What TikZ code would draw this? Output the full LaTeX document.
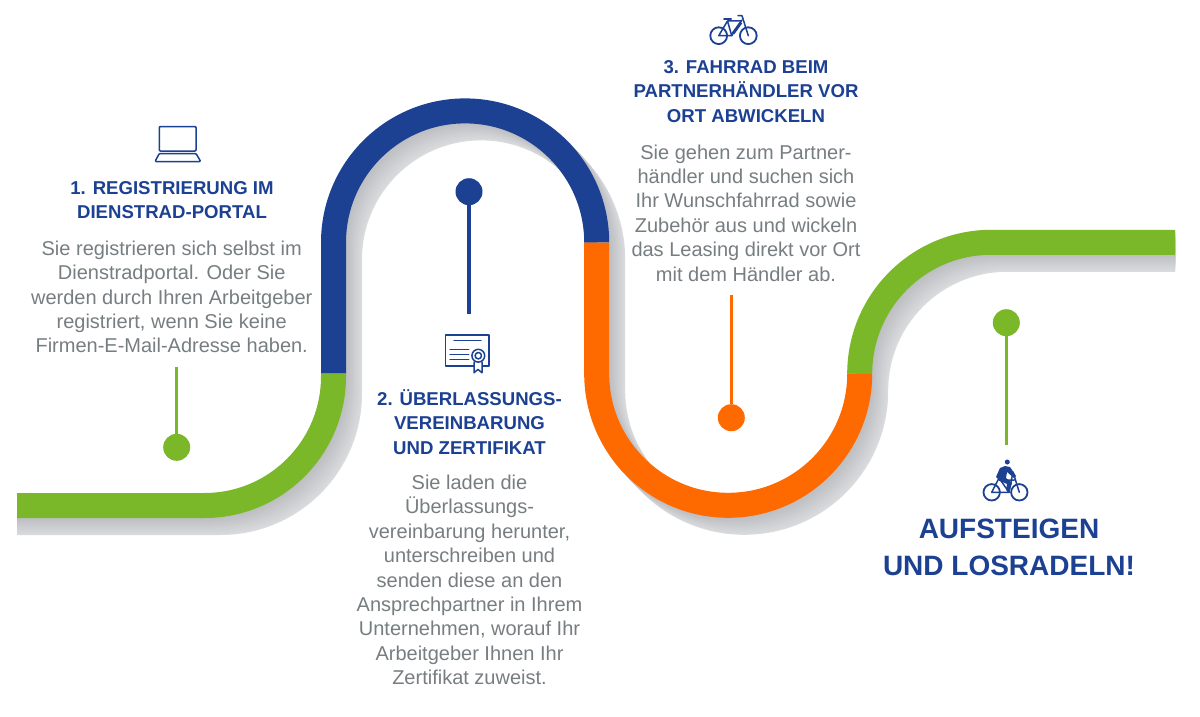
\documentclass[tikz,border=0pt]{standalone}
\usepackage{fontspec}
\setmainfont{Liberation Sans}
\definecolor{bgreen}{HTML}{7AB829}
\definecolor{bblue}{HTML}{1C4193}
\definecolor{borange}{HTML}{FF6A00}
\definecolor{tgrey}{HTML}{777E81}
\definecolor{shlight}{HTML}{DADBDD}
\definecolor{shdark}{HTML}{BEBFC3}
\newcommand{\bandpath}{(0,-505.5) -- (204.5,-505.5) arc[start angle=270,end angle=360,radius=129] -- (333.5,-242.5) arc[start angle=180,end angle=0,radius=131.6] -- (596.7,-373.8) arc[start angle=180,end angle=360,radius=131.5] arc[start angle=180,end angle=90,radius=131.5] -- (1200,-242.5)}
\tikzset{
  band/.style={line width=25pt},
  pinline/.style={line width=3.4pt},
  pindot/.style={circle,minimum size=27pt,inner sep=0pt,fill=#1},
  head/.style={text=bblue,font=\fontsize{18.6}{24.3}\selectfont\bfseries,align=center,inner sep=0pt},
  body/.style={text=tgrey,font=\fontsize{20}{24.4}\selectfont,align=center,inner sep=0pt},
  big/.style={text=bblue,font=\fontsize{28}{37}\selectfont\bfseries,align=center,inner sep=0pt},
  icon/.style={draw=bblue,line width=1.5pt,line join=round,line cap=round}
}
\begin{document}
\begin{tikzpicture}[x=1pt,y=1pt]
\useasboundingbox (0,-717) rectangle (1200,0);
\fill[white] (0,-717) rectangle (1200,0);
% shadow
\begin{scope}
\clip (17,-717) rectangle (1175,0);
\foreach \k in {17,16,...,1}{
  \pgfmathsetmacro{\mixv}{(17-\k)/16*100}
  \colorlet{shcur}{shdark!\mixv!shlight}
  \draw[band,shcur,xshift=\k*16/17*1pt,yshift=-\k*1pt] \bandpath;
}
\end{scope}
% band
\draw[band,bgreen] (17,-505.5) -- (204.5,-505.5) arc[start angle=270,end angle=360,radius=129] -- (333.5,-373);
\draw[band,bblue] (333.5,-373) -- (333.5,-242.5) arc[start angle=180,end angle=0,radius=131.6];
\draw[band,borange] (596.7,-242.5) -- (596.7,-373.8) arc[start angle=180,end angle=360,radius=131.5];
\draw[band,bgreen] (859.7,-373.8) arc[start angle=180,end angle=90,radius=131.5] -- (1175,-242.5);
% pins
\node[pindot=bgreen] (d1) at (176.7,-447.3) {};
\coordinate (e1) at (176.7,-367);
\draw[pinline,bgreen] (d1) -- (e1);
\node[pindot=bblue] (d2) at (469,-191.7) {};
\coordinate (e2) at (469,-314.3);
\draw[pinline,bblue] (d2) -- (e2);
\node[pindot=borange] (d3) at (731.3,-417.7) {};
\coordinate (e3) at (731.3,-295);
\draw[pinline,borange] (d3) -- (e3);
\node[pindot=bgreen] (d4) at (1006.3,-322.7) {};
\coordinate (e4) at (1006.3,-445);
\draw[pinline,bgreen] (d4) -- (e4);
% texts
\node[head] (h1) at (172,-200) {1. REGISTRIERUNG IM\\DIENSTRAD-PORTAL};
\node[body] (b1) at (171.7,-297) {Sie registrieren sich selbst im\\Dienstradportal. Oder Sie\\werden durch Ihren Arbeitgeber\\registriert, wenn Sie keine\\Firmen-E-Mail-Adresse haben.};
\node[head] (h2) at (469.5,-422) {2. ÜBERLASSUNGS-\\VEREINBARUNG\\UND ZERTIFIKAT};
\node[body] (b2) at (469.5,-580) {Sie laden die\\Überlassungs-\\vereinbarung herunter,\\unterschreiben und\\senden diese an den\\Ansprechpartner in Ihrem\\Unternehmen, worauf Ihr\\Arbeitgeber Ihnen Ihr\\Zertifikat zuweist.};
\node[head] (h3) at (746,-91.5) {3. FAHRRAD BEIM\\PARTNERHÄNDLER VOR\\ORT ABWICKELN};
\node[body] (b3) at (746,-213) {Sie gehen zum Partner-\\händler und suchen sich\\Ihr Wunschfahrrad sowie\\Zubehör aus und wickeln\\das Leasing direkt vor Ort\\mit dem Händler ab.};
\node[big] (t4) at (1009,-547) {AUFSTEIGEN\\UND LOSRADELN!};
% laptop
\draw[icon,rounded corners=1pt] (159.3,-151) -- (159.3,-126.5) -- (196,-126.5) -- (196,-151) -- cycle;
\draw[icon,rounded corners=1pt] (159.3,-153.5) -- (196,-153.5) -- (200.7,-161.5) -- (155,-161.5) -- cycle;
% certificate
\draw[icon,line cap=butt] (474,-366) -- (445.7,-366) -- (445.7,-335) -- (489,-335) -- (489,-366) -- (483,-366);
\draw[icon] (454,-340.7) -- (481,-340.7);
\draw[icon] (450,-349.3) -- (468.7,-349.3);
\draw[icon] (450,-354.3) -- (468.7,-354.3);
\draw[icon] (450,-359.3) -- (468.7,-359.3);
\draw[icon] (474,-362) -- (474,-372.7) -- (478,-369.5) -- (482,-372.7) -- (482,-362);
\draw[icon,fill=white] (478.3,-355.7) circle[radius=6.4];
\draw[icon] (478.3,-355.7) circle[radius=3.2];
% bike
\draw[icon,line width=1.8pt] (718.7,-35.7) circle[radius=8.4];
\draw[icon,line width=1.8pt] (748.3,-35.7) circle[radius=8.4];
\draw[icon] (718.7,-35.7) -- (727.5,-21) -- (741,-21) (727.5,-21) -- (731.7,-35.7) -- (718.7,-35.7);
\draw[icon,line width=3pt,line cap=butt] (733,-33.5) -- (741,-22.5);
\draw[icon] (731.7,-35.7) -- (742,-20);
\draw[icon] (748.3,-35.7) -- (742,-15.7) -- (738,-15.7);
\draw[icon,line width=2pt] (724,-19) -- (731,-19);
% rider
\draw[icon,line width=1.8pt] (991.7,-492.3) circle[radius=8.2];
\draw[icon,line width=1.8pt] (1019.3,-492.3) circle[radius=8.2];
\fill[bblue] (1007.3,-462) circle[radius=2.5];
\fill[bblue] (996,-477) -- (1000,-468) -- (1005,-466) -- (1010,-467) -- (1016,-476) -- (1014,-478) -- (1007,-472) -- (1006,-478) -- (1012,-483) -- (1009,-492) -- (1006,-490) -- (1007,-484) -- (1000,-481) -- cycle;
\draw[icon] (991.7,-492.3) -- (999,-478) -- (1009,-492.3) -- cycle;
\draw[icon] (999,-480) -- (1014,-480) (1019.3,-492.3) -- (1013,-472) -- (1009,-492.3);
\end{tikzpicture}
\end{document}
